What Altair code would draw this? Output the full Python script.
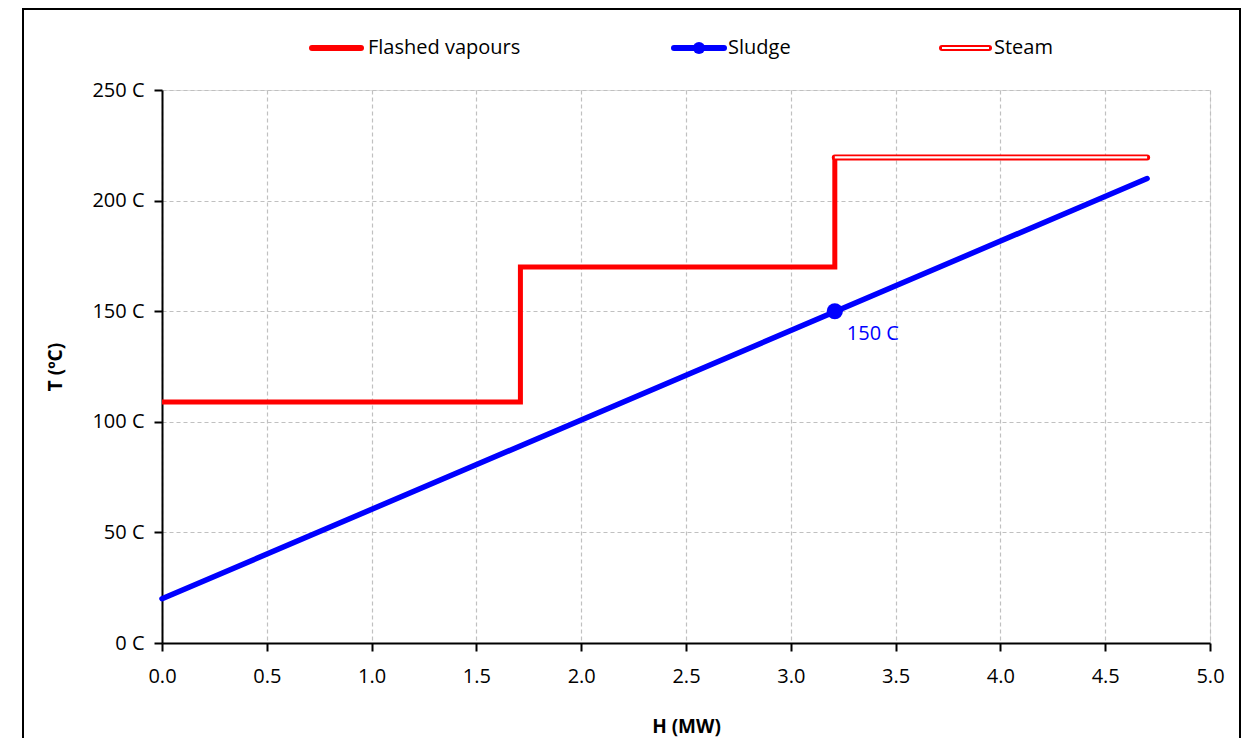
import altair as alt
import pandas as pd

# ---- data ----
fv_x = [0.0, 1.71, 1.71, 3.21, 3.21]
fv_y = [109, 109, 170, 170, 219.5]
steam_x = [3.21, 4.70]
steam_y = [219.5, 219.5]
sludge_x = [0.0, 4.70]
sludge_y = [20, 210]
marker_x = [3.21]
marker_y = [150]
marker_label = ["150 C"]
x_ticks = [0.0, 0.5, 1.0, 1.5, 2.0, 2.5, 3.0, 3.5, 4.0, 4.5, 5.0]
y_ticks = [0, 50, 100, 150, 200, 250]
legend_names = ["Flashed vapours", "Sludge", "Steam"]

FONT = "Open Sans"
W, H = 1048, 553

fv = pd.DataFrame({"x": fv_x, "y": fv_y, "i": range(len(fv_x))})
steam = pd.DataFrame({"x": steam_x, "y": steam_y, "i": range(len(steam_x))})
sludge = pd.DataFrame({"x": sludge_x, "y": sludge_y, "i": range(len(sludge_x))})
marker = pd.DataFrame({"x": marker_x, "y": marker_y, "label": marker_label})
one = pd.DataFrame({"d": [0]})

xs = alt.Scale(domain=[0, 5], nice=False)
ys = alt.Scale(domain=[0, 250], nice=False)

x_enc = alt.X("x:Q", scale=xs, axis=alt.Axis(
    values=x_ticks, format=".1f", title="H (MW)", grid=True, labelFlush=False,
    gridColor="#c0c0c0", gridDash=[4, 3], gridWidth=1.2,
    domainColor="black", domainWidth=2, tickColor="black", tickWidth=2, tickSize=8,
    labelFont=FONT, labelFontSize=20, labelColor="black", labelPadding=15,
    titleFont=FONT, titleFontSize=19, titleFontWeight="bold", titleColor="black",
    titlePadding=31))
y_enc = alt.Y("y:Q", scale=ys, axis=alt.Axis(
    values=y_ticks, labelExpr="datum.value + ' C'", title="T (ºC)", grid=True, labelFlush=False,
    gridColor="#c0c0c0", gridDash=[4, 3], gridWidth=1.2,
    domainColor="black", domainWidth=2, tickColor="black", tickWidth=2, tickSize=8,
    labelFont=FONT, labelFontSize=20, labelColor="black", labelPadding=10,
    titleFont=FONT, titleFontSize=19, titleFontWeight="bold", titleColor="black",
    titlePadding=26))

base_order = alt.Order("i:Q")

fv_line = alt.Chart(fv).mark_line(color="#ff0000", strokeWidth=5, strokeJoin="miter").encode(
    x=x_enc, y=y_enc, order=base_order)
steam_outer = alt.Chart(steam).mark_line(color="#ff0000", strokeWidth=6, strokeCap="round").encode(
    x="x:Q", y="y:Q", order=base_order)
steam_inner = alt.Chart(steam).mark_line(color="white", strokeWidth=2.2, strokeCap="butt").encode(
    x="x:Q", y="y:Q", order=base_order)
sludge_line = alt.Chart(sludge).mark_line(color="#0000ff", strokeWidth=5.5, strokeCap="round").encode(
    x="x:Q", y="y:Q", order=base_order)
marker_pt = alt.Chart(marker).mark_circle(color="#0000ff", size=260, opacity=1).encode(
    x="x:Q", y="y:Q")
marker_txt = alt.Chart(marker).mark_text(color="#0000ff", font=FONT, fontSize=20, align="left",
                                          baseline="middle", dx=12, dy=23).encode(
    x="x:Q", y="y:Q", text="label:N")

# ---- legend (drawn at top) ----
LY = -42
leg = []
leg.append(alt.Chart(one).mark_rule(color="#ff0000", strokeWidth=6, strokeCap="round").encode(
    x=alt.value(150), x2=alt.value(199), y=alt.value(LY)))
leg.append(alt.Chart(one).mark_rule(color="#0000ff", strokeWidth=6, strokeCap="round").encode(
    x=alt.value(512), x2=alt.value(562), y=alt.value(LY)))
leg.append(alt.Chart(one).mark_circle(color="#0000ff", size=150, opacity=1).encode(
    x=alt.value(537), y=alt.value(LY)))
leg.append(alt.Chart(one).mark_rule(color="#ff0000", strokeWidth=6, strokeCap="round").encode(
    x=alt.value(780), x2=alt.value(827), y=alt.value(LY)))
leg.append(alt.Chart(one).mark_rule(color="white", strokeWidth=2.2).encode(
    x=alt.value(780), x2=alt.value(827), y=alt.value(LY)))
for name, xpos in zip(legend_names, [206, 566, 832]):
    leg.append(alt.Chart(pd.DataFrame({"t": [name]})).mark_text(
        font=FONT, fontSize=20, align="left", baseline="middle", color="black").encode(
        x=alt.value(xpos), y=alt.value(LY), text="t:N"))

frame = alt.Chart(one).mark_rect(fill="transparent", stroke="black", strokeWidth=2).encode(
    x=alt.value(-139), x2=alt.value(1078), y=alt.value(-81), y2=alt.value(720))

chart = alt.layer(
    fv_line, sludge_line, steam_outer, steam_inner, marker_pt, marker_txt, *leg, frame
).properties(
    width=W, height=H,
    autosize=alt.AutoSizeParams(type="none"),
    padding={"left": 154, "top": 82, "right": 32, "bottom": 95},
).configure_view(stroke="#a0a0a0", strokeWidth=1.5).configure(background="white")

chart.save("out.html", embed_options={"renderer": "svg", "actions": False})
